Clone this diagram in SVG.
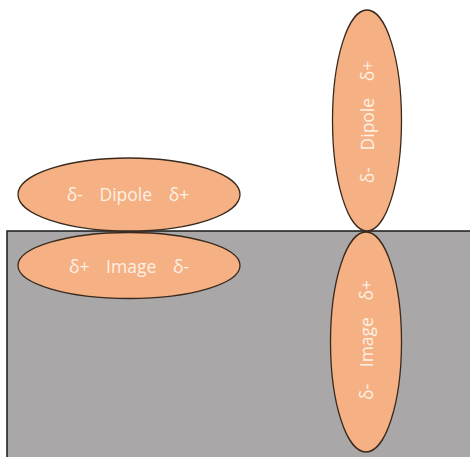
<svg xmlns="http://www.w3.org/2000/svg" width="470" height="457" viewBox="0 0 470 457">
<style>
.e{fill:#F5B183;stroke:#3A2A1E;stroke-width:1.3}
.t{font-family:"Open Sans","Liberation Sans",sans-serif;font-size:17.5px;fill:#FDF0E4;text-anchor:middle;dominant-baseline:central;white-space:pre;word-spacing:1px}
</style>
<rect x="0" y="0" width="470" height="457" fill="#FFFFFF"/>
<g id="surface"><rect x="7" y="231" width="470" height="240" fill="#A9A7A7" stroke="#1A1A1A" stroke-width="1.5"/></g>
<g id="dipole-h"><ellipse class="e" cx="129" cy="194.5" rx="111" ry="36.5"/><text class="t" x="128" y="194">δ-   Dipole   δ+</text></g>
<g id="image-h"><ellipse class="e" cx="129" cy="265.5" rx="111" ry="33"/><text class="t" x="129" y="266">δ+   Image   δ-</text></g>
<g id="dipole-v"><ellipse class="e" cx="367" cy="120.5" rx="34.5" ry="110.5"/><text class="t" transform="translate(367 122) rotate(-90)">δ-   Dipole   δ+</text></g>
<g id="image-v"><ellipse class="e" cx="366" cy="342" rx="35.5" ry="110"/><text class="t" transform="translate(366 340) rotate(-90)">δ-   Image   δ+</text></g>
<g id="connectors"/>
</svg>
